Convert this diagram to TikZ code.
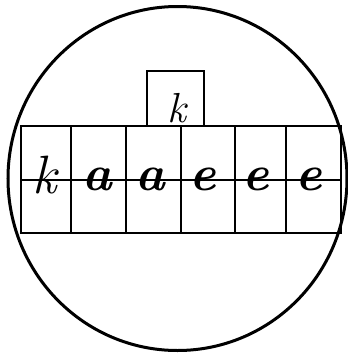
\documentclass[tikz,border=0pt]{standalone}
\usepackage{fontspec}
\begin{document}
\begin{tikzpicture}[x=1pt,y=-1pt,
  gridline/.style={line width=1.8pt},
  letter/.style={anchor=base,inner sep=0pt,font=\fontsize{50}{50}\selectfont\bfseries\itshape},
  kletter/.style={anchor=base,inner sep=0pt,font=\fontsize{54}{54}\selectfont\itshape},
  topletter/.style={anchor=base,inner sep=0pt,font=\fontsize{42}{42}\selectfont\itshape}]
\useasboundingbox (0,0) rectangle (348,354);
% top box
\draw[line width=1.5pt] (147,126) -- (147,71) -- (204,71) -- (204,126);
% grid
\draw[gridline] (21,126) rectangle (341,233);
\draw[gridline] (21,180) -- (341,180);
\foreach \x in {71,126,181,235,286} \draw[gridline] (\x,126) -- (\x,233);
% circle
\draw[line width=3pt] (177.5,178.5) ellipse (169.5 and 172);
% letters
\node[topletter] (k0) at (177,122) {k};
\node[kletter] (c1) at (45,193) {k};
\node[letter] (c2) at (97,190) {a};
\node[letter] (c3) at (150,190) {a};
\node[letter] (c4) at (203,190) {e};
\node[letter] (c5) at (256,190) {e};
\node[letter] (c6) at (309,190) {e};
\end{tikzpicture}
\end{document}
